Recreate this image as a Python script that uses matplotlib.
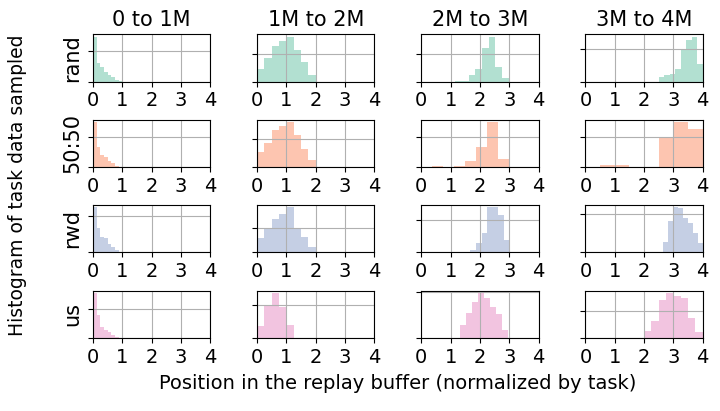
import numpy as np
import matplotlib
matplotlib.use("Agg")
import matplotlib.pyplot as plt

# columns = time windows, rows = sampling strategies
col_titles = ["0 to 1M", "1M to 2M", "2M to 3M", "3M to 4M"]
row_labels = ["rand", "50:50", "rwd", "us"]
colors = ["#66c2a5", "#fc8d62", "#8da0cb", "#e78ac3"]

# histogram range (lo, hi) per column, 8 bins each, densities
rand_ranges = [(0, 1), (0, 2), (1.16, 2.98), (2.5, 4)]
rand_heights = [
    [3.67, 1.49, 1.16, 0.81, 0.54, 0.33, 0.135, 0.02],
    [0.24, 0.435, 0.66, 0.74, 0.83, 0.58, 0.366, 0.122],
    [0.01, 0.034, 0.24, 0.45, 1.19, 1.62, 0.52, 0.12],
    [0.126, 0.21, 0.24, 0.39, 0.99, 1.29, 1.39, 0.55],
]
mix_ranges = [(0, 1), (0, 2), (0, 3), (0, 4)]
mix_heights = [
    [3.79, 1.69, 0.98, 0.84, 0.47, 0.34, 0.12, 0.02],
    [0.277, 0.43, 0.66, 0.74, 0.81, 0.57, 0.33, 0.124],
    [0.0, 0.023, 0.0, 0.016, 0.195, 0.66, 1.52, 0.26],
    [0.006, 0.028, 0.04, 0.0, 0.0, 0.49, 0.76, 0.64],
]
rwd_ranges = [(0, 1), (0, 2), (1.49, 3.0), (2.64, 4)]
rwd_heights = [
    [3.13, 1.73, 1.10, 0.98, 0.56, 0.40, 0.17, 0.03],
    [0.29, 0.49, 0.67, 0.77, 0.91, 0.50, 0.32, 0.10],
    [0.01, 0.073, 0.28, 0.61, 1.39, 1.39, 1.16, 0.37],
    [0.27, 0.82, 1.18, 1.16, 0.91, 0.76, 0.51, 0.25],
]
us_ranges = [(0, 1), (0, 2), (1.31, 2.97), (2, 4)]
us_heights = [
    [3.86, 1.92, 0.94, 0.65, 0.51, 0.28, 0.08, 0.01],
    [0.35, 1.0, 1.35, 0.93, 0.40, 0.0, 0.0, 0.0],
    [0.29, 0.535, 0.79, 0.985, 0.875, 0.665, 0.515, 0.165],
    [0.13, 0.31, 0.71, 0.845, 0.78, 0.74, 0.375, 0.113],
]

# the single y tick shown on each panel
rand_ticks = [2.5, 0.5, 1, 1]
mix_ticks = [2.5, 0.5, 1, 0.5]
rwd_ticks = [2.5, 0.5, 1, 1]
us_ticks = [2.5, 1, 1, 0.5]

all_ranges = [rand_ranges, mix_ranges, rwd_ranges, us_ranges]
all_heights = [rand_heights, mix_heights, rwd_heights, us_heights]
all_ticks = [rand_ticks, mix_ticks, rwd_ticks, us_ticks]

fig, axes = plt.subplots(4, 4, figsize=(7.2, 4.11), dpi=100)
fig.subplots_adjust(left=0.129, right=0.976, top=0.9165, bottom=0.178,
                    wspace=0.40, hspace=0.81)

for r in range(4):
    for c in range(4):
        ax = axes[r, c]
        lo, hi = all_ranges[r][c]
        heights = all_heights[r][c]
        edges = np.linspace(lo, hi, len(heights) + 1)
        ax.hist(edges[:-1], bins=edges, weights=heights,
                color=colors[r], alpha=0.5)
        ax.set_xlim(0, 4)
        ax.set_xticks([0, 1, 2, 3, 4])
        ax.set_yticks([0, all_ticks[r][c]])
        ax.tick_params(axis="y", labelleft=False)
        ax.tick_params(axis="x", labelsize=14)
        ax.grid(True)
        if r == 0:
            ax.set_title(col_titles[c], fontsize=15)
        if c == 0:
            ax.set_ylabel(row_labels[r], fontsize=15)

fig.text(0.025, 0.55, "Histogram of task data sampled", rotation=90,
         va="center", ha="center", fontsize=13.5)
fig.text(0.552, 0.068, "Position in the replay buffer (normalized by task)",
         va="center", ha="center", fontsize=14)

plt.savefig("out.png", dpi=100)
